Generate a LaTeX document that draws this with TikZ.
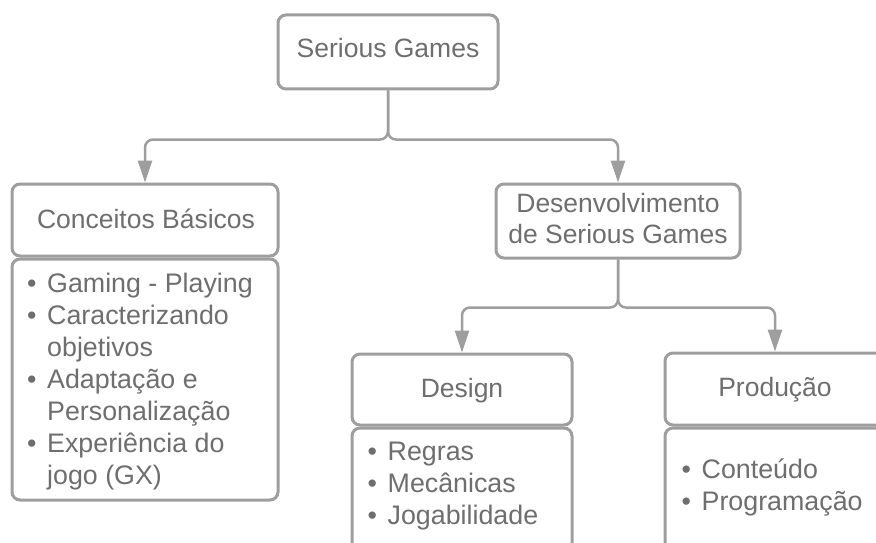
\documentclass[tikz,border=0pt]{standalone}
\usepackage{fontspec}
\setmainfont{Liberation Sans}
\usetikzlibrary{arrows.meta}
\definecolor{edgegray}{HTML}{9E9E9E}
\definecolor{textgray}{HTML}{6E6E6E}
\newcommand\bul{\makebox[20pt][l]{\textbullet}}
\newcommand\ind{\hspace*{20pt}}
\begin{document}
\begin{tikzpicture}[x=1pt,y=-1pt,
  box/.style={draw=edgegray, line width=3pt, rounded corners=8pt, fill=white,
    inner sep=0pt, anchor=center},
  label/.style={text=textgray, inner sep=0pt, font=\fontsize{26.5}{32}\selectfont},
  listtext/.style={label, align=left, anchor=base west,
    font=\fontsize{26.8}{32}\selectfont},
  conn/.style={draw=edgegray, line width=2.5pt, rounded corners=8pt,
    -{Triangle[length=22pt,width=14pt]}}]
\useasboundingbox (0,0) rectangle (876,543);
\clip (0,0) rectangle (876,543);

% boxes
\node[box, minimum width=220pt, minimum height=74pt] (root) at (388,52) {};
\node[box, minimum width=266pt, minimum height=72pt] (cb) at (145,220) {};
\node[box, minimum width=266pt, minimum height=241pt] (cblist) at (145,379.5) {};
\node[box, minimum width=244pt, minimum height=74pt] (dev) at (618,221) {};
\node[box, minimum width=220pt, minimum height=71pt] (des) at (462,389.5) {};
\node[box, minimum width=220pt, minimum height=132pt] (deslist) at (462,494) {};
\node[box, minimum width=220pt, minimum height=72pt] (prod) at (775,389) {};
\node[box, minimum width=220pt, minimum height=132pt] (prodlist) at (775,494) {};

% titles
\node[label, anchor=base] (rootlabel) at (388,58) {Serious Games};
\node[label, anchor=base] (cblabel) at (146,228) {Conceitos Básicos};
\node[label, anchor=base] (devlabel1) at (618,212) {Desenvolvimento};
\node[label, anchor=base] (devlabel2) at (618,243) {de Serious Games};
\node[label, anchor=base] (deslabel) at (462,397) {Design};
\node[label, anchor=base] (prodlabel) at (775,396) {Produção};

% item lists (anchored at the baseline of their last line)
\node[listtext] (cbitems) at (27,484) {\bul Gaming - Playing\\
  \bul Caracterizando\\ \ind objetivos\\
  \bul Adaptação e\\ \ind Personalização\\
  \bul Experiência do\\ \ind jogo (GX)};
\node[listtext] (desitems) at (367.5,524) {\bul Regras\\ \bul Mecânicas\\ \bul Jogabilidade};
\node[listtext] (proditems) at (681.5,510) {\bul Conteúdo\\ \bul Programação};

% connectors
\draw[conn] (root.south) -- ++(0,49) -| (cb.north);
\draw[conn] (root.south) -- ++(0,49) -| (dev.north);
\draw[conn] (dev.south) -- ++(0,48) -| (des.north);
\draw[conn] (dev.south) -- ++(0,48) -| (prod.north);
\end{tikzpicture}
\end{document}
